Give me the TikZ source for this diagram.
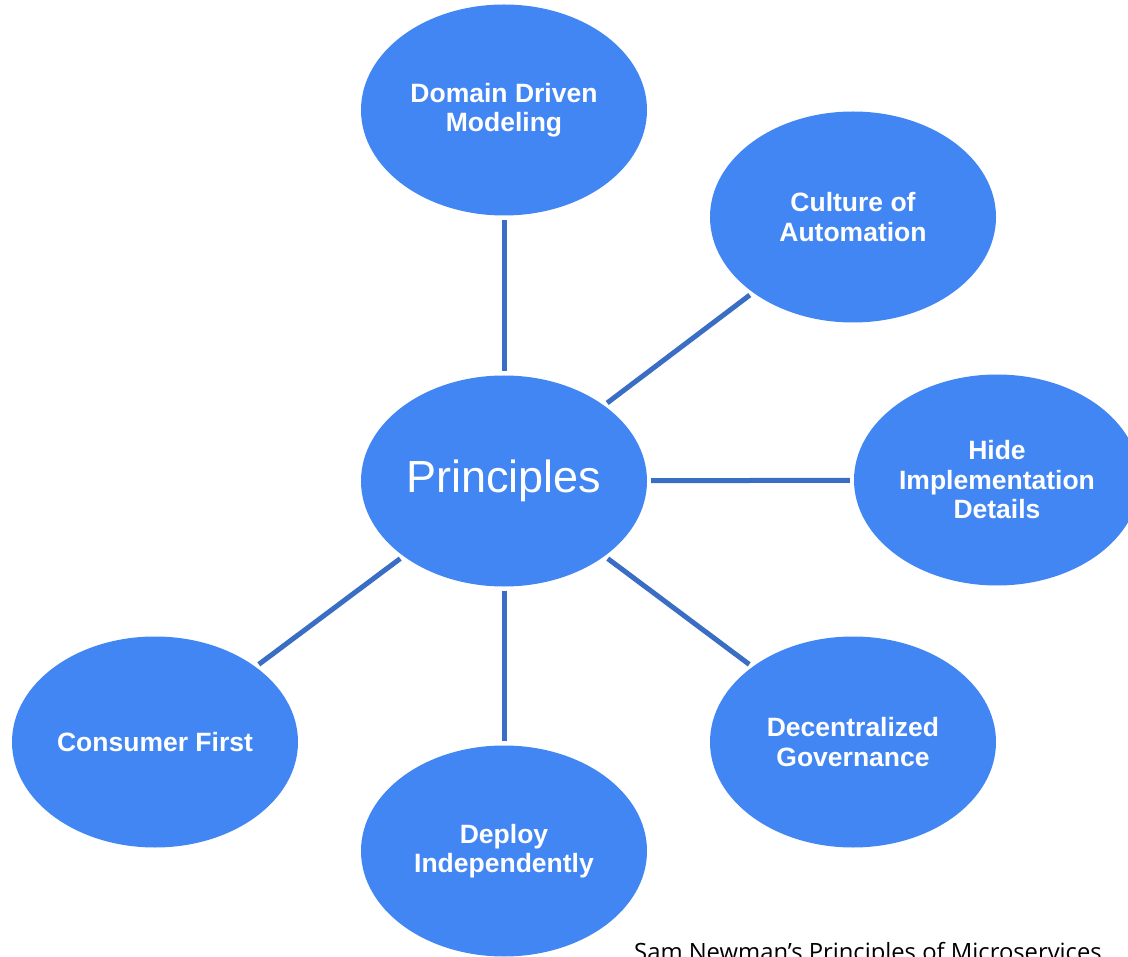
\documentclass[tikz,border=0pt]{standalone}
\usepackage{fontspec}
\setmainfont{Liberation Sans}
\newfontfamily\capfont{Open Sans}
\usepackage{tikz}
\usetikzlibrary{shapes.geometric}

\definecolor{bubbleblue}{RGB}{66,134,244}
\definecolor{linkblue}{RGB}{58,109,196}

\begin{document}
\begin{tikzpicture}[
        x=1pt, y=-1pt,
        bubble/.style={ellipse, fill=bubbleblue, minimum width=286pt, minimum height=211pt, inner sep=0pt, align=center, text=white, font=\fontsize{26.5}{29.5}\selectfont\bfseries},
        link/.style={draw=linkblue, line width=5pt, shorten <=4pt, shorten >=4pt}
      ]

      \clip (0,0) rectangle (1128,957);

      % hub
      \node[bubble, font=\fontsize{45}{50}\selectfont] (princ) at (504, 481) {Principles};

      % principles around the hub
      \node[bubble] (ddm) at (504, 110) {Domain Driven\\Modeling};
      \node[bubble] (culture) at (853, 217) {Culture of\\Automation};
      \node[bubble] (hide) at (997, 480) {Hide\\Implementation\\Details};
      \node[bubble] (decent) at (853, 742) {Decentralized\\Governance};
      \node[bubble] (deploy) at (504, 851) {Deploy\\Independently};
      \node[bubble] (consumer) at (155, 742) {Consumer First};

      \draw[link] (princ) -- (ddm);
      \draw[link] (princ) -- (culture);
      \draw[link] (princ) -- (hide);
      \draw[link] (princ) -- (decent);
      \draw[link] (princ) -- (deploy);
      \draw[link] (princ) -- (consumer);

      \node[anchor=base west, inner sep=0pt, font=\capfont\fontsize{23.8}{28}\selectfont] (caption) at (634, 960) {Sam Newman’s Principles of Microservices};

    \end{tikzpicture}
\end{document}
